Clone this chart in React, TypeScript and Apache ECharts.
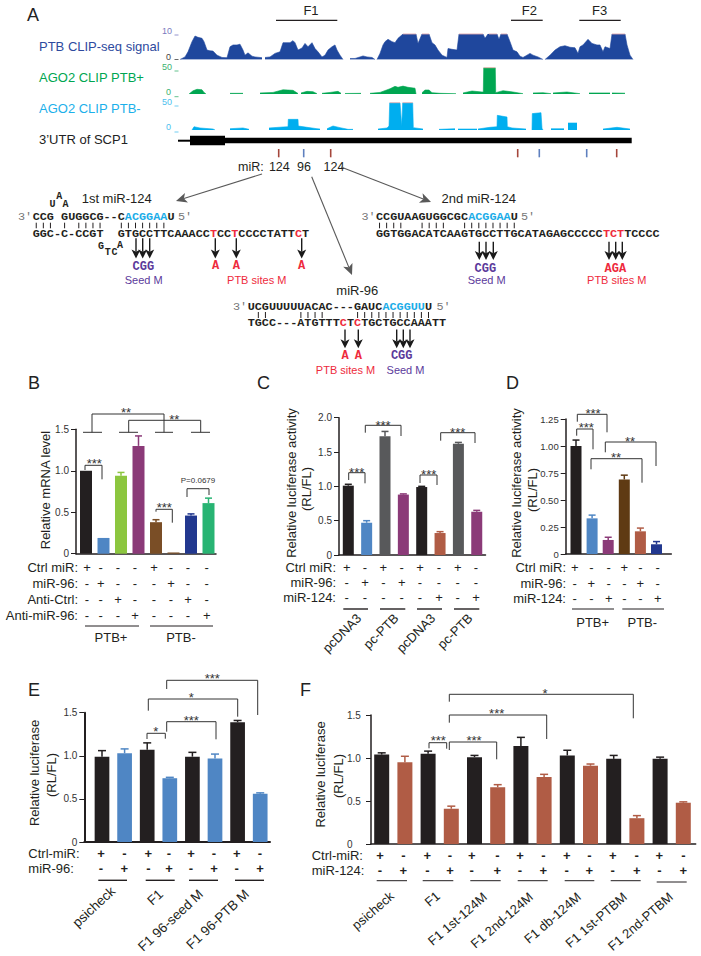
import React, { useEffect, useRef } from "react";
import * as echarts from "echarts";

// ---------- colours ----------
const INK = "#231f20";
const BLUE = "#4f86c4";
const GRAPHITE = "#58595b";
const PLUM = "#8b3a78";
const BROWN = "#7a4e26";
const DKBROWN = "#5f3a13";
const TERRA = "#b05c45";
const NAVY = "#22388f";
const CYAN = "#1cade8";
const RED = "#ee2a3c";
const PURPLE = "#5b3a9b";
const TRACK_BLUE = "#1f479d";
const TRACK_GREEN = "#00a651";
const TRACK_CYAN = "#00aeef";
const PINK = "#f4b0ac";
const MONO = '"Liberation Mono"';
const SANS = '"Liberation Sans"';

// ---------- panel A, coverage tracks: [position, value], null = gap ----------
const ptbClip: [number, number | null][] = [
  [2,0],[7,1],[10,3],[14,7],[17,9.2],[20,8.7],[24,8.3],[26,7],[29,3.7],[32,3.4],[35,3.3],[39,1.7],[44,.8],[49,.7],[52,5],[55,5.7],[59,5.7],[62,6],[65,3.7],[67,1.7],[70,2.6],[74,1.3],[77,1],[82,.8],[84,.7],[84.1,null],
  [87,.8],[92,1],[97,2.4],[102,3],[105,6.6],[109,6.6],[112,6.6],[115,7.4],[117,6.6],[120,3.7],[124,4.5],[127,6.3],[130,5],[134,6.6],[137,4.3],[140,3],[144,1],[147,1.7],[150,3.7],[154,5],[157,5.7],[159,3.7],[162,1.7],[165,0],[165.1,null],
  [172,.4],[177,.4],[182,1],[185,1.4],[189,1],[194,.8],[197,0],[197.5,null],
  [199,0],[202,2.4],[205,5.7],[207,7],[210,7.9],[214,7],[217,6.6],[220,8.3],[225,10],[238,10],[240,6.3],[244,10],[251,10],[254,6.6],[257,5.7],[260,3.7],[264,1.7],[269,.8],[270,4.3],[274,4],[279,3.7],[281,10],[305,10],[307,8.3],[310,10],[319,10],[321,7.9],[323,10],[329,10],[332,7],[335,3.7],[339,3],[342,1.3],[345,.8],[349,1.7],[352,2.4],[355,1.7],[360,1],[365,0],[366,null],
  [367,0],[372,1.7],[377,3.7],[382,5],[387,5.4],[392,4.8],[397,4.6],[400,2.4],[402,5],[405,5.7],[410,7.9],[414,6.3],[419,5.7],[422,5.7],[425,3],[427,5],[432,4.3],[434,10],[447,10],[449,5.7],[452,1.7],[455,0],
];
const ptbClipCaps: [number, number | null][] = [
  [225,10],[238,10],[238.5,null],[244,10],[251,10],[251.5,null],[281,10],[305,10],[305.5,null],[311,10],[319,10],[319.5,null],[323,10],[329,10],[329.5,null],[434,10],[447,10],
];
const agoPlus: [number, number | null][] = [
  [11,0],[15,6],[19,9],[24,8],[26,3],[28,0],[28.5,null],
  [52,1.3],[65,1.3],[65.5,null],
  [82,2],[95,3],[105,8],[115,7],[120,1],[120.5,null],
  [123,2],[129,5],[135,4.4],[139,.6],[139.5,null],
  [144,1.3],[152,3],[160,5],[163,1.3],[163.5,null],
  [167,1],[183,1.3],[183.5,null],
  [192,1.3],[202,3],[212,10],[217,14.5],[220,12.7],[225,15],[230,12.7],[237,11],[238,0],[238.5,null],
  [244,2.5],[247,7.6],[251,7.6],[254,2.5],[262,1.3],[278,.6],[278.5,null],
  [285,2],[294,5.7],[304,3.8],[305.3,3.8],[305.7,50],[317.3,50],[317.7,2.5],[325,6.3],[335,3.8],[345,.6],[345.5,null],
  [355,2],[365,2.5],[373,.6],[373.5,null],
  [375,2],[389,3.8],[402,.6],[402.5,null],
  [411,2],[432,2],[432.5,null],
  [434,2],[447,1.5],
];
const agoPlusCaps: [number, number | null][] = [[305.7,50],[317.3,50]];
const agoMinus: [number, number | null][] = [
  [14,0],[16,6],[22,3.7],[35,1.8],[37,0],[37.5,null],
  [52,2.4],[65,3.7],[71,1.2],[71.5,null],
  [91,3.7],[105,5.5],[110,6],[110.3,19.5],[120,19.5],[120.3,7.3],[129,4.9],[139,2.4],[142,1.8],[142.5,null],
  [149,2.4],[155,7.3],[162,4.3],[170,1.2],[175,1.2],[175.5,null],
  [200,1.8],[209,3.7],[211,7.3],[211.7,50],[222,50],[223.7,7.3],[224.7,50],[234.7,50],[235.3,4.3],[245,1.8],[245.5,null],
  [261,1.2],[277,2.4],[277.5,null],
  [280,1.8],[299,1.8],[299.5,null],
  [300,1.8],[312,4.9],[319,6],[319.3,26.8],[329,23.8],[329.3,6],[334,3.7],[348,1.8],[348.5,null],
  [354,0],[354.3,30],[363,31.7],[364,3],[365,0],[365.5,null],
  [373,2.4],[386,2.4],[386.5,null],
  [390,12.8],[399,12.8],[399.5,null],
  [425,1.8],[439,4.9],[452,1.8],
];
const agoMinusCaps: [number, number | null][] = [[211.7,50],[222,50],[222.5,null],[224.7,50],[234.7,50]];

// ---------- panel B ----------
const bValues = [1.0, 0.19, 0.94, 1.3, 0.38, 0.015, 0.46, 0.61];
const bErrors = [0, 0, 0.04, 0.12, 0.03, 0, 0.02, 0.06];
const bColors = [INK, BLUE, "#8cc63f", PLUM, BROWN, BROWN, NAVY, "#28b473"];
const bTicks = ["0", "0.5", "1.0", "1.5"];
const bRows = ["Ctrl miR:", "miR-96:", "Anti-Ctrl:", "Anti-miR-96:"];
const bSigns = ["+---+---", "-+---+--", "--+---+-", "---+---+"];
const bGroups = ["PTB+", "PTB-"];

// ---------- panel C ----------
const cValues = [1.01, 0.47, 1.73, 0.88, 0.99, 0.32, 1.62, 0.63];
const cErrors = [0.02, 0.03, 0.07, 0.01, 0.01, 0.02, 0.02, 0.02];
const cColors = [INK, BLUE, GRAPHITE, PLUM, INK, TERRA, GRAPHITE, PLUM];
const cTicks = ["0", "0.5", "1.0", "1.5", "2.0"];
const cRows = ["Ctrl miR:", "miR-96:", "miR-124:"];
const cSigns = ["+-+-+-+-", "-+-+----", "-----+-+"];
const cGroups = ["pcDNA3", "pc-PTB", "pcDNA3", "pc-PTB"];

// ---------- panel D ----------
const dValues = [1.0, 0.33, 0.13, 0.69, 0.21, 0.09];
const dErrors = [0.055, 0.03, 0.025, 0.04, 0.03, 0.025];
const dColors = [INK, BLUE, PLUM, DKBROWN, TERRA, NAVY];
const dTicks = ["0", "0.25", "0.50", "0.75", "1.00", "1.25"];
const dRows = ["Ctrl miR:", "miR-96:", "miR-124:"];
const dSigns = ["+--+--", "-+--+-", "--+--+"];
const dGroups = ["PTB+", "PTB-"];

// ---------- panel E ----------
const eValues = [0.99, 1.03, 1.07, 0.74, 0.99, 0.97, 1.39, 0.56];
const eErrors = [0.07, 0.05, 0.08, 0.01, 0.05, 0.05, 0.02, 0.01];
const eColors = [INK, BLUE, INK, BLUE, INK, BLUE, INK, BLUE];
const eTicks = ["0", "0.5", "1.0", "1.5"];
const eRows = ["Ctrl-miR:", "miR-96:"];
const eSigns = ["+-+-+-+-", "-+-+-+-+"];
const eGroups = ["psicheck", "F1", "F1 96-seed M", "F1 96-PTB M"];

// ---------- panel F ----------
const fValues = [1.04, 0.95, 1.05, 0.41, 1.01, 0.66, 1.14, 0.78, 1.03, 0.91, 0.99, 0.3, 0.99, 0.48];
const fErrors = [0.02, 0.07, 0.03, 0.03, 0.02, 0.03, 0.1, 0.03, 0.06, 0.02, 0.04, 0.03, 0.02, 0.01];
const fColors = [INK, TERRA, INK, TERRA, INK, TERRA, INK, TERRA, INK, TERRA, INK, TERRA, INK, TERRA];
const fTicks = ["0", "0.5", "1.0", "1.5"];
const fRows = ["Ctrl-miR:", "miR-124:"];
const fSigns = ["+-+-+-+-+-+-+-", "-+-+-+-+-+-+-+"];
const fGroups = ["psicheck", "F1", "F1 1st-124M", "F1 2nd-124M", "F1 db-124M", "F1 1st-PTBM", "F1 2nd-PTBM"];

// ---------- sequences ----------
const seq1Top: [string, string][] = [["CCG GUGGCG--C", INK], ["ACGGAA", CYAN], ["U", INK]];
const seq1Bottom: [string, string][] = [["GGC-C-CCGT  GTGCCTTCAAACC", INK], ["T", RED], ["CC", INK], ["T", RED], ["CCCCTATT", INK], ["C", RED], ["T", INK]];
const seq1Pairs = [0, 1, 2, 4, 6, 7, 8, 9, 12, 13, 14, 15, 16, 17, 18];
const seq2Top: [string, string][] = [["CCGUAAGUGGCGC", INK], ["ACGGAA", CYAN], ["U", INK]];
const seq2Bottom: [string, string][] = [["GGTGGACATCAAGTGCCTTGCATAGAGCCCCC", INK], ["TCT", RED], ["TCCCC", INK]];
const seq2Pairs = [0, 1, 2, 3, 6, 7, 8, 9, 12, 13, 14, 15, 16, 17, 18, 19];
const seq3Top: [string, string][] = [["UCGUUUUUACAC---GAUC", INK], ["ACGGUU", CYAN], ["U", INK]];
const seq3Bottom: [string, string][] = [["TGCC---ATGTTT", INK], ["C", RED], ["T", INK], ["C", RED], ["TGCTGCCAAATT", INK]];
const seq3Pairs = [1, 2, 7, 8, 9, 10, 15, 16, 17, 18, 19, 20, 21, 22, 23, 24, 25];

// ---------- helpers ----------
const CW = 7.09;
const g: any[] = [];

function txt(text: string, x: number, y: number, o: any = {}) {
  const { rotation, ...style } = o;
  g.push({
    type: "text", x, y, rotation: rotation || 0, silent: true,
    style: {
      text, fill: INK, fontFamily: SANS, fontSize: 13,
      align: "left", verticalAlign: "middle", ...style,
    },
  });
}
const ctr = (t: string, x: number, y: number, o: any = {}) => txt(t, x, y, { align: "center", ...o });
function rule(x1: number, y1: number, x2: number, y2: number, stroke = INK, lineWidth = 1) {
  g.push({ type: "line", silent: true, shape: { x1, y1, x2, y2 }, style: { stroke, lineWidth } });
}
function bracket(pts: number[], starText: string, sx: number, sy: number) {
  const [x1, y1, top, x2, y2] = pts;
  g.push({
    type: "polyline", silent: true,
    shape: { points: [[x1, y1], [x1, top], [x2, top], [x2, y2]] },
    style: { stroke: "#333", lineWidth: 1, fill: "none" },
  });
  if (starText) ctr(starText, sx, sy + 3, { fontSize: 13, fill: "#333" });
}
function arrow(x1: number, y1: number, x2: number, y2: number, color: string, lw: number, len: number, w: number) {
  const a = Math.atan2(y2 - y1, x2 - x1);
  const ux = Math.cos(a), uy = Math.sin(a), px = -uy, py = ux;
  const nx = x2 - ux * len * 0.75, ny = y2 - uy * len * 0.75;
  rule(x1, y1, nx, ny, color, lw);
  g.push({
    type: "polygon", silent: true,
    shape: {
      points: [
        [x2, y2],
        [x2 - ux * len + (px * w) / 2, y2 - uy * len + (py * w) / 2],
        [nx, ny],
        [x2 - ux * len - (px * w) / 2, y2 - uy * len - (py * w) / 2],
      ],
    },
    style: { fill: color },
  });
}
function seqRow(x: number, y: number, parts: [string, string][]) {
  let i = 0;
  parts.forEach(([s, color]) => {
    const re = /\S+/g;
    let m: RegExpExecArray | null;
    while ((m = re.exec(s))) {
      txt(m[0], x + (i + m.index) * CW, y, { fontFamily: MONO, fontWeight: "bold", fontSize: 11.8, fill: color });
    }
    i += s.length;
  });
}
function pairs(x: number, y1: number, y2: number, idx: number[]) {
  idx.forEach((i) => rule(x + (i + 0.5) * CW, y1, x + (i + 0.5) * CW, y2, INK, 1));
}
const mono = (t: string, x: number, y: number, fill: string) =>
  ctr(t, x, y, { fontFamily: MONO, fontWeight: "bold", fontSize: 12, fill });
const bulge = (t: string, x: number, y: number) =>
  ctr(t, x, y, { fontFamily: MONO, fontWeight: "bold", fontSize: 10, fill: INK });
const note = (t: string, x: number, y: number, fill: string) => ctr(t, x, y, { fontSize: 11, fill });
const downs = (xs: number[], y1: number, y2: number) =>
  xs.forEach((x) => arrow(x, y1, x, y2, "#1a1a1a", 1.4, 9, 9));

function signRows(rows: string[], signs: string[], xs: number[], ys: number[], labelX: number, labelAlign: string, bold = false) {
  rows.forEach((label, r) => {
    txt(label, labelX, ys[r], { align: labelAlign, fontSize: 13 });
    signs[r].split("").forEach((s, c) =>
      ctr(s, xs[c], ys[r], { fontSize: 13, fontWeight: bold ? "bold" : "normal" }));
  });
}

// ---------- chart assembly ----------
type Panel = {
  left: number; right: number; top: number; bottom: number; first: number; step: number;
  barW: number; max: number; interval: number; ticks: string[]; values: number[]; errors: number[];
  colors: string[]; axisW: number; fontSize: number; cap: number; leftLabels?: number;
};
const panelB: Panel = { left: 76, right: 216, top: 429.3, bottom: 553.7, first: 86, step: 17.5, barW: 12, max: 1.5, interval: 0.5, ticks: bTicks, values: bValues, errors: bErrors, colors: bColors, axisW: 1.5, fontSize: 10, cap: 3.5 };
const panelC: Panel = { left: 339, right: 485.5, top: 417.7, bottom: 555, first: 348.3, step: 18.35, barW: 11, max: 2, interval: 0.5, ticks: cTicks, values: cValues, errors: cErrors, colors: cColors, axisW: 1.5, fontSize: 10, cap: 3.5 };
const panelD: Panel = { left: 565.7, right: 671.3, top: 419, bottom: 554, first: 576, step: 16.1, barW: 11, max: 1.25, interval: 0.25, ticks: dTicks, values: dValues, errors: dErrors, colors: dColors, axisW: 1.5, fontSize: 9.5, cap: 3.5 };
const panelE: Panel = { left: 84.3, right: 270, top: 712.7, bottom: 842, first: 102, step: 22.6, barW: 14.7, max: 1.5, interval: 0.5, ticks: eTicks, values: eValues, errors: eErrors, colors: eColors, axisW: 2, fontSize: 10, cap: 4 };
const panelF: Panel = { left: 371, right: 695.7, top: 715, bottom: 844, first: 381.7, step: 23.2, barW: 15, max: 1.5, interval: 0.5, ticks: fTicks, values: fValues, errors: fErrors, colors: fColors, axisW: 1.5, fontSize: 10, cap: 4, leftLabels: 24 };

function buildOption() {
  g.length = 0;
  const grid: any[] = [], xAxis: any[] = [], yAxis: any[] = [], series: any[] = [];

  // tracks
  const tracks = [
    { top: 34, bottom: 59.5, max: 10, data: ptbClip, caps: ptbClipCaps, color: TRACK_BLUE },
    { top: 67.7, bottom: 94, max: 50, data: agoPlus, caps: agoPlusCaps, color: TRACK_GREEN },
    { top: 102.7, bottom: 130, max: 50, data: agoMinus, caps: agoMinusCaps, color: TRACK_CYAN },
  ];
  tracks.forEach((t) => {
    const i = grid.length;
    grid.push({ left: 178, width: 456, top: t.top, height: t.bottom - t.top });
    xAxis.push({ gridIndex: i, type: "value", min: 0, max: 456, show: false });
    yAxis.push({ gridIndex: i, type: "value", min: 0, max: t.max, show: false });
    series.push({
      type: "line", xAxisIndex: i, yAxisIndex: i, data: t.data, showSymbol: false, symbol: "none",
      connectNulls: false, lineStyle: { color: t.color, width: 0.6 }, itemStyle: { color: t.color },
      areaStyle: { color: t.color, opacity: 1 }, silent: true,
    });
    series.push({
      type: "line", xAxisIndex: i, yAxisIndex: i, data: t.caps, showSymbol: false, symbol: "none",
      connectNulls: false, clip: false, lineStyle: { color: PINK, width: 0.8 }, itemStyle: { color: PINK }, silent: true, z: 3,
    });
  });

  // bar panels
  [panelB, panelC, panelD, panelE, panelF].forEach((p) => {
    const i = grid.length;
    grid.push({ left: p.left, width: p.right - p.left, top: p.top, height: p.bottom - p.top });
    xAxis.push({
      gridIndex: i, type: "value",
      min: (p.left - p.first) / p.step, max: (p.right - p.first) / p.step,
      axisLine: { show: true, onZero: false, lineStyle: { color: INK, width: p.axisW } },
      axisTick: { show: false }, axisLabel: { show: false }, splitLine: { show: false },
    });
    yAxis.push({
      gridIndex: i, type: "value", min: 0, max: p.max, interval: p.interval,
      axisLine: { show: true, onZero: false, lineStyle: { color: INK, width: p.axisW } },
      axisTick: { show: true, length: 5, lineStyle: { color: INK, width: 1 } },
      splitLine: { show: false },
      axisLabel: {
        color: "#333", fontFamily: SANS, fontSize: p.fontSize,
        margin: p.leftLabels ?? 7, align: p.leftLabels ? "left" : "right",
        formatter: (_: number, idx: number) => p.ticks[idx],
      },
    });
    series.push({
      type: "bar", xAxisIndex: i, yAxisIndex: i, barWidth: p.barW, silent: true,
      data: p.values.map((v, k) => ({ value: [k, v], itemStyle: { color: p.colors[k] } })),
    });
    series.push({
      type: "custom", xAxisIndex: i, yAxisIndex: i, silent: true, z: 3,
      data: p.values.map((v, k) => [k, v, p.errors[k]]),
      encode: { x: 0, y: 1 },
      renderItem: (_: any, api: any) => {
        const k = api.value(0), v = api.value(1), e = api.value(2);
        if (!e) return { type: "group", children: [] };
        const a = api.coord([k, v]), b = api.coord([k, v + e]);
        const style = { stroke: p.colors[k], lineWidth: 1.5 };
        return {
          type: "group",
          children: [
            { type: "line", shape: { x1: a[0], y1: a[1], x2: b[0], y2: b[1] }, style },
            { type: "line", shape: { x1: b[0] - p.cap, y1: b[1], x2: b[0] + p.cap, y2: b[1] }, style },
          ],
        };
      },
    });
  });

  // ---- panel letters ----
  const letter = (t: string, x: number, y: number) => txt(t, x, y, { fontSize: 18, fill: "#222" });
  letter("A", 27, 15); letter("B", 28, 382.5); letter("C", 257, 382.5); letter("D", 506, 382.5); letter("E", 28, 690); letter("F", 300, 690);

  // ---- panel A ----
  txt("PTB CLIP-seq signal", 39, 46.7, { fill: "#2e4a9e" });
  txt("AGO2 CLIP PTB+", 39, 77.5, { fill: "#00a651" });
  txt("AGO2 CLIP PTB-", 39, 108.5, { fill: "#1cb0ea" });
  txt("3’UTR of SCP1", 39, 139.5, { fill: "#222" });
  [["F1", 311, 276, 337.3], ["F2", 529.3, 511, 542.7], ["F3", 599.7, 579.3, 620.7]].forEach(([t, c, a, b]: any) => {
    ctr(t, c, 10, { fontSize: 13 });
    rule(a, 20.3, b, 20.3, INK, 1.3);
  });
  const tickLabels = [
    ["10", 172, 31, "#7a7ac0"], ["0", 171, 56.7, "#444"],
    ["50", 172, 66.7, "#3cb371"], ["0", 171, 91.7, "#3cb371"],
    ["50", 172, 101.7, "#4cc0ee"], ["0", 171, 127, "#4cc0ee"],
  ];
  tickLabels.forEach(([t, x, y, c]: any) => txt(t, x, y, { align: "right", fontSize: 9, fill: c }));
  [[35, "#7a7ac0"], [59.5, "#444"], [71, "#3cb371"], [96.7, "#3cb371"], [106, "#4cc0ee"], [132, "#4cc0ee"]].forEach(([y, c]: any) =>
    rule(174.5, y, 178.5, y, c, 0.8));

  // gene model
  g.push({ type: "rect", silent: true, shape: { x: 178, y: 139.7, width: 12, height: 2 }, style: { fill: "#000" } });
  g.push({ type: "rect", silent: true, shape: { x: 190, y: 135.7, width: 35, height: 9.6 }, style: { fill: "#000" } });
  g.push({ type: "rect", silent: true, shape: { x: 225, y: 137.7, width: 406.7, height: 5.6 }, style: { fill: "#000" } });
  [[278.7, "#a5473c"], [303.7, "#5f80bf"], [330.7, "#a5473c"], [517.7, "#a5473c"], [539.3, "#5f80bf"], [586.7, "#5f80bf"], [616.7, "#a5473c"]].forEach(([x, c]: any) =>
    rule(x, 149, x, 157.3, c, 1.6));
  txt("miR:", 238, 166.7, { fontSize: 12.5 });
  ctr("124", 279.3, 166.7, { fontSize: 12.5 }); ctr("96", 304, 166.7, { fontSize: 12.5 }); ctr("124", 334, 166.7, { fontSize: 12.5 });

  arrow(262, 174, 176, 201, "#595959", 1.1, 11, 10);
  arrow(311.7, 176.7, 352, 275, "#595959", 1.1, 11, 10);
  arrow(341, 167, 431, 202, "#595959", 1.1, 11, 10);

  // 1st miR-124
  ctr("1st miR-124", 116.7, 198.3);
  const prime = (t: string, x: number, y: number) => txt(t, x, y, { fontFamily: MONO, fontSize: 11.8, fill: "#777" });
  prime("3′", 18, 216.7); prime("5′", 178, 216.7);
  seqRow(32.7, 216.7, seq1Top);
  seqRow(32.7, 234, seq1Bottom);
  pairs(32.7, 222.7, 228.3, seq1Pairs);
  bulge("A", 59.3, 196.5); bulge("U", 52.5, 204.8); bulge("A", 65.5, 204.8);
  bulge("G", 101, 246); bulge("A", 120, 245.2); bulge("T", 107.7, 252.7); bulge("C", 114.6, 252.7);
  downs([136, 142.7, 149.7, 215.3, 236.3, 301.7], 238.3, 258.5);
  mono("CGG", 143.3, 266.7, PURPLE);
  note("Seed M", 143.7, 280, PURPLE);
  mono("A", 215.7, 266, RED); mono("A", 236.3, 266, RED); mono("A", 301.7, 266, RED);
  note("PTB sites M", 256.7, 280, RED);

  // 2nd miR-124
  ctr("2nd miR-124", 478.7, 198.3);
  prime("3′", 361.5, 216.7); prime("5′", 521, 216.7);
  seqRow(376, 216.7, seq2Top);
  seqRow(376, 234, seq2Bottom);
  pairs(376, 222.7, 228.3, seq2Pairs);
  downs([479.3, 486, 493.3, 609, 615.7, 622.3], 241.7, 260);
  mono("CGG", 485.3, 268.7, PURPLE);
  note("Seed M", 486.7, 280.3, PURPLE);
  mono("AGA", 615.3, 268.7, RED);
  note("PTB sites M", 616.7, 280.3, RED);

  // miR-96
  ctr("miR-96", 357.3, 290);
  prime("3′", 233, 306.7); prime("5′", 436.5, 306.7);
  seqRow(247.7, 306.7, seq3Top);
  seqRow(247.7, 323.3, seq3Bottom);
  pairs(247.7, 312, 318, seq3Pairs);
  downs([345, 358.3, 396.7, 403.3, 410], 329.5, 348.3);
  mono("A", 345, 356, RED); mono("A", 358.3, 356, RED);
  mono("CGG", 401.7, 356, PURPLE);
  note("PTB sites M", 345.5, 370, RED);
  note("Seed M", 405.5, 370, PURPLE);

  // ---- panel B ----
  const ytitle = (t: string, x: number, y: number) => ctr(t, x, y, { rotation: Math.PI / 2 });
  ytitle("Relative mRNA level", 45, 490);
  signRows(bRows, bSigns, [87, 100.7, 118, 135, 154, 171, 188, 206.7], [567, 583, 599.5, 615], 78, "right");
  rule(85, 626, 139, 626); rule(150, 626, 213, 626);
  ctr(bGroups[0], 111, 637); ctr(bGroups[1], 181, 637);
  [[83, 102], [119, 138], [155, 173], [191, 210]].forEach(([a, b]) => rule(a, 432.3, b, 432.3, "#333", 1));
  bracket([92, 432.3, 414, 164, 432.3], "**", 126, 409);
  bracket([128.7, 432.3, 420.3, 200.7, 432.3], "**", 174.3, 416.7);
  bracket([85, 470, 465.3, 102, 479.3], "***", 94.3, 460);
  bracket([156, 511.7, 509.3, 172.3, 522.7], "***", 164.3, 504.3);
  bracket([187, 497, 488.7, 209, 495], "", 0, 0);
  ctr("P=0.0679", 198, 480, { fontSize: 8, fill: "#333" });

  // ---- panel C ----
  ytitle("Relative luciferase activity", 291, 483);
  ytitle("(RL/FL)", 306.7, 489);
  signRows(cRows, cSigns, [346.7, 365, 383.3, 401.7, 420, 439, 457.7, 476], [567.3, 582.3, 597.7], 336, "right");
  const cLines = [[343.3, 368], [380, 405.3], [417, 442], [454, 479.3]];
  cLines.forEach(([a, b], i) => {
    rule(a, 609, b, 609, INK, 1.4);
    txt(cGroups[i], b - 9, 616, { align: "right", rotation: Math.PI / 4 });
  });
  bracket([348.7, 480, 472.7, 365, 483.3], "***", 356.7, 469);
  bracket([365.3, 432.7, 425.3, 401, 436], "***", 383, 422);
  bracket([420, 483, 475, 437, 485], "***", 428.7, 471.7);
  bracket([440.7, 440.7, 432.7, 475, 443], "***", 457.7, 429.3);

  // ---- panel D ----
  ytitle("Relative luciferase activity", 516, 483);
  ytitle("(RL/FL)", 532, 490);
  signRows(dRows, dSigns, [574.7, 591.3, 608.7, 624.3, 640.3, 657.7], [567.3, 583.3, 598.7], 566, "right");
  rule(572, 609, 614, 609); rule(622.3, 609, 664, 609);
  ctr(dGroups[0], 592.7, 622.3); ctr(dGroups[1], 642.3, 622.3);
  bracket([576.7, 435.7, 429, 593, 449.3], "***", 586.3, 424.7);
  bracket([577.3, 421.7, 414.3, 607, 432.3], "***", 593, 410.7);
  bracket([591, 469.3, 458.7, 642, 482.7], "**", 616, 454.7);
  bracket([605.3, 452.3, 442, 656, 466], "**", 630, 438);

  // ---- panel E ----
  ytitle("Relative luciferase", 34, 773);
  ytitle("(RL/FL)", 51.7, 775);
  signRows(eRows, eSigns, [101, 124.3, 148.3, 169, 191, 214, 236.7, 260], [853.5, 868.7], 28.3, "left", true);
  const eLines = [[98.3, 127], [145.7, 174.7], [189, 218], [235, 264]];
  eLines.forEach(([a, b]) => rule(a, 880.3, b, 880.3, INK, 1.4));
  const eEnds = [[113, 889], [161, 892], [201, 892], [247, 892]];
  eGroups.forEach((t, i) => txt(t, eEnds[i][0], eEnds[i][1], { align: "right", rotation: (43 * Math.PI) / 180, fontSize: 13.5 }));
  bracket([147, 739, 733.3, 165.3, 738.7], "*", 155.7, 728);
  bracket([166.7, 731.7, 721.7, 216, 739.3], "***", 191.3, 717);
  bracket([148.3, 710.7, 699, 237.7, 716.7], "*", 191.3, 694);
  bracket([166.7, 689, 680.3, 257.7, 715], "***", 212.3, 675.7);

  // ---- panel F ----
  ytitle("Relative luciferase", 320, 774.5);
  ytitle("(RL/FL)", 338, 776);
  signRows(fRows, fSigns, [380, 403.3, 427.3, 450, 471.7, 497.3, 520, 543.3, 566.7, 589.3, 612.7, 636.7, 659.3, 683.3], [855.3, 870.7], 311.7, "left", true);
  const fLines = [[376.7, 407, 880.7], [422.7, 453.3, 880.7], [470.3, 500.7, 880.7], [517.7, 547.7, 880.7], [564.7, 594.3, 880.7], [610.7, 640.7, 880.7], [656.7, 686.7, 882]];
  fLines.forEach(([a, b, y]) => rule(a, y, b, y, INK, 1));
  const fEnds = [[392, 894], [438, 894], [485, 895], [531, 895], [579, 895], [625, 895], [671, 895]];
  fGroups.forEach((t, i) => txt(t, fEnds[i][0], fEnds[i][1], { align: "right", rotation: (41 * Math.PI) / 180, fontSize: 13 }));
  bracket([429, 748.3, 742.7, 446.7, 748.7], "***", 438.3, 737.7);
  bracket([449.3, 750, 742, 496.7, 759.3], "***", 474, 737.7);
  bracket([449.3, 722.7, 715, 546.7, 739], "***", 496.7, 710.7);
  bracket([449.3, 701.7, 694.3, 633.3, 718.3], "*", 545, 690);

  return {
    animation: false,
    backgroundColor: "#fff",
    tooltip: { show: false },
    grid, xAxis, yAxis, series,
    graphic: { elements: g.slice() },
  };
}

export default function App() {
  const ref = useRef<HTMLDivElement>(null);
  useEffect(() => {
    const chart = echarts.init(ref.current!, undefined, { renderer: "svg" });
    chart.setOption(buildOption() as any);
    return () => chart.dispose();
  }, []);
  return <div ref={ref} style={{ position: "absolute", left: 0, top: 0, width: 701, height: 956 }} />;
}
